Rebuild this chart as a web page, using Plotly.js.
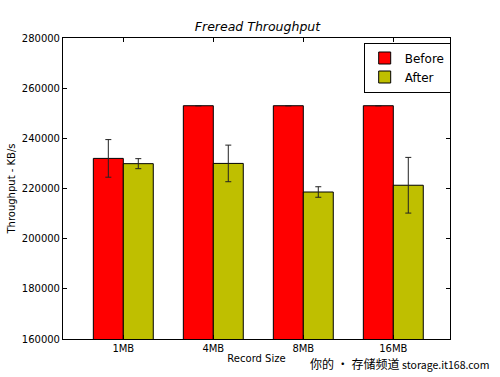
<!DOCTYPE html>
<html><head><meta charset="utf-8">
<script src="https://cdn.plot.ly/plotly-3.0.1.min.js"></script>
<style>html,body{margin:0;padding:0;background:#fff}#c{width:500px;height:377px}</style>
</head><body><div id="c"></div>
<script>
const categories = ['1MB', '4MB', '8MB', '16MB'];
const beforeValues = [232000, 253000, 253000, 253000];
const beforeErrors = [7500, 0, 0, 0];
const afterValues = [229900, 230000, 218600, 221300];
const afterErrors = [2000, 7300, 2100, 11100];
const yTicks = [160000, 180000, 200000, 220000, 240000, 260000, 280000];

const bw = 0.333;
const traces = [
  {type:'bar', name:'Before', x:categories, y:beforeValues, width:bw, offset:-bw,
   marker:{color:'#ff0000', line:{color:'#000', width:1}},
   error_y:{type:'data', array:beforeErrors, visible:true, color:'#222', thickness:1, width:3}},
  {type:'bar', name:'After', x:categories, y:afterValues, width:bw, offset:0,
   marker:{color:'#bfbf00', line:{color:'#000', width:1}},
   error_y:{type:'data', array:afterErrors, visible:true, color:'#222', thickness:1, width:3}}
];
const layout = {
  width:500, height:377,
  margin:{l:63, r:50, t:38, b:38},
  paper_bgcolor:'#fff', plot_bgcolor:'#fff',
  font:{family:'DejaVu Sans', size:10, color:'#000'},
  title:{text:'<i>Freread Throughput</i>', x:0.515, xanchor:'center', y:0.93, yanchor:'middle', font:{size:12.5, family:'DejaVu Sans'}},
  xaxis:{type:'category', range:[-0.67, 3.63], showline:true, mirror:'ticks', linecolor:'#000', linewidth:1,
    ticks:'inside', ticklen:4, tickcolor:'#000', showgrid:false, zeroline:false,
    title:{text:'Record Size', font:{size:10}, standoff:1}},
  yaxis:{range:[160000, 280000], tickvals:yTicks, ticktext:yTicks.map(String), showline:true, mirror:'ticks',
    linecolor:'#000', linewidth:1, ticks:'inside', ticklen:4, tickcolor:'#000', showgrid:false, zeroline:false,
    title:{text:'Throughput - KB/s', font:{size:10}, standoff:4}},
  legend:{x:0.777, y:0.985, xanchor:'left', yanchor:'top', bordercolor:'#000', borderwidth:1, bgcolor:'#fff',
    font:{size:12}, tracegroupgap:0, itemwidth:30},
  showlegend:true,
  annotations:[{text:'你的 • 存储频道 <span style="font-size:10.5px">storage.it168.com</span>',
    xref:'paper', yref:'paper', x:1.105, y:-0.08,
    xanchor:'right', yanchor:'middle', showarrow:false, font:{family:'Noto Sans CJK SC', size:12, color:'#000'}}]
};
Plotly.newPlot('c', traces, layout, {displayModeBar:false, staticPlot:true});
</script></body></html>
